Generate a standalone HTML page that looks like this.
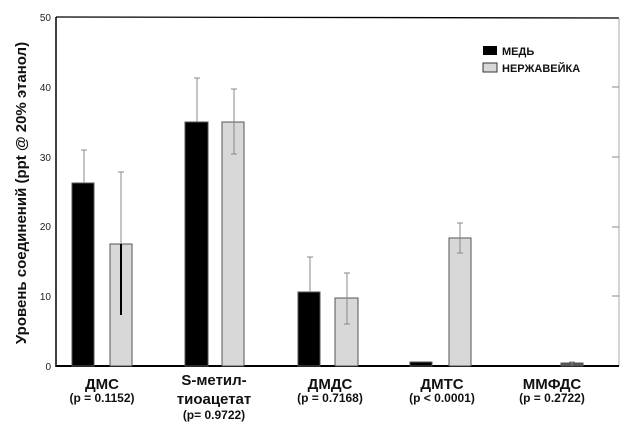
<!DOCTYPE html><html><head><meta charset="utf-8"><style>body{margin:0;background:#fff}</style></head><body>
<svg width="640" height="424" xmlns="http://www.w3.org/2000/svg" font-family="Liberation Sans, sans-serif">
<rect width="640" height="424" fill="#fff"/>
<line x1="56" y1="17" x2="56" y2="367" stroke="#000" stroke-width="1.5"/>
<line x1="56" y1="17" x2="619" y2="18" stroke="#000" stroke-width="1.3"/>
<line x1="619" y1="18" x2="619" y2="366" stroke="#aaa" stroke-width="1"/>
<line x1="56" y1="366" x2="619" y2="366" stroke="#000" stroke-width="2"/>
<g stroke="#888"><line x1="612" y1="87" x2="619" y2="87"/><line x1="612" y1="157" x2="619" y2="157"/><line x1="612" y1="227" x2="619" y2="227"/><line x1="612" y1="296" x2="619" y2="296"/></g>
<g font-size="10" fill="#222" text-anchor="end"><text x="51" y="21">50</text><text x="51" y="91">40</text><text x="51" y="161">30</text><text x="51" y="230">20</text><text x="51" y="300">10</text><text x="51" y="370">0</text></g>
<text transform="translate(26,193) rotate(-90)" text-anchor="middle" font-size="15" font-weight="bold" fill="#111">Уровень соединений (ppt @ 20% этанол)</text>
<g stroke="#555" stroke-width="1">
<rect x="72" y="183" width="22" height="183" fill="#000"/>
<rect x="110" y="244" width="22" height="122" fill="#d8d8d8"/>
<rect x="185" y="122" width="23" height="244" fill="#000"/>
<rect x="222" y="122" width="22" height="244" fill="#d8d8d8"/>
<rect x="298" y="292" width="22" height="74" fill="#000"/>
<rect x="335" y="298" width="23" height="68" fill="#d8d8d8"/>
<rect x="410" y="362" width="22" height="4" fill="#000"/>
<rect x="449" y="238" width="22" height="128" fill="#d8d8d8"/>
<rect x="561" y="363" width="22" height="3" fill="#555"/>
</g>
<g stroke="#888" stroke-width="1">
<line x1="84" y1="183" x2="84" y2="150"/><line x1="81" y1="150" x2="87" y2="150"/>
<line x1="121" y1="172" x2="121" y2="315"/><line x1="118" y1="172" x2="124" y2="172"/>
<line x1="197" y1="122" x2="197" y2="78"/><line x1="194" y1="78" x2="200" y2="78"/>
<line x1="234" y1="89" x2="234" y2="154"/><line x1="231" y1="89" x2="237" y2="89"/><line x1="231" y1="154" x2="237" y2="154"/>
<line x1="310" y1="292" x2="310" y2="257"/><line x1="307" y1="257" x2="313" y2="257"/>
<line x1="347" y1="273" x2="347" y2="324"/><line x1="344" y1="273" x2="350" y2="273"/><line x1="344" y1="324" x2="350" y2="324"/>
<line x1="460" y1="223" x2="460" y2="253"/><line x1="457" y1="223" x2="463" y2="223"/><line x1="457" y1="253" x2="463" y2="253"/>
<line x1="572" y1="362" x2="572" y2="366"/><line x1="569" y1="362" x2="575" y2="362"/>
</g>
<line x1="121" y1="244" x2="121" y2="315" stroke="#000" stroke-width="2"/>
<rect x="483" y="46" width="14" height="9" fill="#000"/>
<rect x="483" y="63" width="14" height="9" fill="#d8d8d8" stroke="#333"/>
<g font-size="11" font-weight="bold" fill="#111"><text x="502" y="55">МЕДЬ</text><text x="502" y="72">НЕРЖАВЕЙКА</text></g>
<g text-anchor="middle" fill="#111" font-weight="bold">
<g font-size="15"><text x="102" y="389">ДМС</text><text x="214" y="385">S-метил-</text><text x="214" y="404">тиоацетат</text><text x="330" y="389">ДМДС</text><text x="442" y="389">ДМТС</text><text x="552" y="389">ММФДС</text></g>
<g font-size="12"><text x="102" y="402">(p = 0.1152)</text><text x="214" y="419">(p= 0.9722)</text><text x="330" y="402">(p = 0.7168)</text><text x="442" y="402">(p &lt; 0.0001)</text><text x="552" y="402">(p = 0.2722)</text></g>
</g>
</svg></body></html>
